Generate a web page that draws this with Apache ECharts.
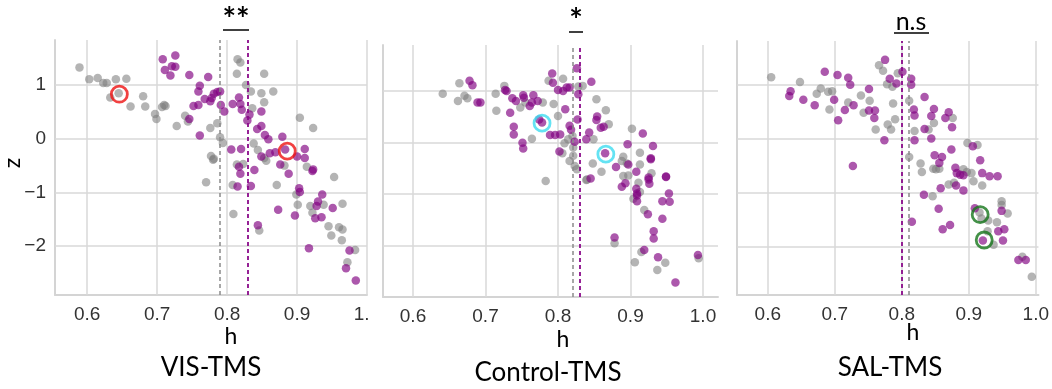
<!DOCTYPE html>
<html>
<head>
<meta charset="utf-8">
<script src="https://cdn.jsdelivr.net/npm/echarts@6.0.0/dist/echarts.min.js"></script>
<style>
  html, body { margin: 0; padding: 0; background: #fff; }
  #chart { width: 1052px; height: 389px; }
</style>
</head>
<body>
<div id="chart"></div>
<script>
// tick values
const xTicks = [0.6, 0.7, 0.8, 0.9, 1.0];
const yTicks = [-2, -1, 0, 1];

// VIS-TMS  [h, z]
const visGray = [[0.589,1.33],[0.603,1.11],[0.615,1.13],[0.623,1.04],[0.628,1.04],[0.641,1.11],[0.656,1.12],[0.633,0.77],[0.645,0.85],[0.662,0.60],[0.680,0.79],[0.683,0.60],[0.707,0.59],[0.712,0.61],[0.697,0.46],[0.699,0.37],[0.728,0.24],[0.740,0.43],[0.744,0.32],[0.776,0.20],[0.786,0.29],[0.790,0.03],[0.794,-0.08],[0.777,-0.32],[0.781,-0.37],[0.770,-0.81],[0.815,1.48],[0.819,1.42],[0.814,1.21],[0.853,1.21],[0.827,1.00],[0.834,0.88],[0.849,0.85],[0.866,0.88],[0.853,0.68],[0.836,0.57],[0.904,0.39],[0.923,0.20],[0.838,-0.09],[0.844,-0.21],[0.853,-0.36],[0.914,-0.52],[0.953,-0.71],[0.871,-0.86],[0.808,-0.86],[0.814,-0.48],[0.823,-0.47],[0.856,-0.41],[0.882,-0.50],[0.809,-1.40],[0.846,-1.71],[0.899,-1.04],[0.901,-1.23],[0.919,-1.25],[0.922,-1.38],[0.938,-1.23],[0.965,-1.21],[0.945,-1.63],[0.949,-1.80],[0.960,-1.65],[0.965,-1.69],[0.964,-1.89],[0.983,-2.07],[0.972,-2.30],[0.710,0.63],[0.780,-0.39]];
const visPurple = [[0.708,1.48],[0.726,1.55],[0.711,1.28],[0.721,1.35],[0.726,1.34],[0.719,1.18],[0.746,1.19],[0.773,1.15],[0.761,0.99],[0.759,0.88],[0.781,0.84],[0.786,0.87],[0.790,0.88],[0.776,0.70],[0.778,0.76],[0.768,0.74],[0.752,0.61],[0.759,0.63],[0.746,0.37],[0.761,0.06],[0.791,0.63],[0.796,0.51],[0.808,0.65],[0.819,0.65],[0.821,0.54],[0.817,0.77],[0.832,0.45],[0.829,0.34],[0.849,0.51],[0.849,0.24],[0.843,0.18],[0.854,0.07],[0.859,-0.01],[0.879,0.04],[0.806,-0.20],[0.820,-0.19],[0.849,-0.33],[0.861,-0.27],[0.869,-0.25],[0.883,-0.20],[0.900,-0.33],[0.911,-0.19],[0.911,-0.36],[0.876,-0.48],[0.817,-0.52],[0.923,-0.57],[0.819,-0.65],[0.815,-0.89],[0.834,-0.88],[0.839,-0.58],[0.888,-0.65],[0.922,-0.60],[0.903,-0.92],[0.904,-0.99],[0.936,-1.04],[0.930,-1.17],[0.928,-1.25],[0.951,-1.29],[0.873,-1.32],[0.897,-1.43],[0.926,-1.48],[0.935,-1.46],[0.844,-1.61],[0.917,-2.04],[0.975,-2.08],[0.970,-2.41],[0.984,-2.64]];
const visMeans = [0.794, 0.831];          // gray, purple
const visRings = [[0.646,0.83],[0.886,-0.23]];

// Control-TMS
const ctlGray = [[0.641,0.94],[0.664,1.14],[0.662,0.80],[0.671,0.90],[0.675,0.85],[0.714,0.94],[0.715,0.61],[0.726,1.09],[0.748,0.67],[0.755,0.77],[0.779,0.77],[0.794,0.74],[0.787,1.19],[0.807,1.23],[0.800,0.51],[0.764,0.07],[0.809,-0.02],[0.814,0.06],[0.820,0.12],[0.821,-0.10],[0.821,-0.26],[0.816,-0.36],[0.823,-0.46],[0.826,-0.52],[0.806,-0.21],[0.828,1.08],[0.834,1.09],[0.853,0.83],[0.866,0.62],[0.870,0.35],[0.849,0.06],[0.848,-0.41],[0.860,-0.57],[0.840,-0.72],[0.783,-0.75],[0.902,0.26],[0.890,-0.28],[0.888,-0.36],[0.895,-0.41],[0.913,-0.20],[0.913,-0.43],[0.929,-0.60],[0.890,-0.65],[0.897,-0.64],[0.911,-0.78],[0.913,-0.96],[0.904,-1.09],[0.919,-1.31],[0.878,-1.95],[0.915,-2.12],[0.906,-2.32],[0.948,-2.33],[0.937,-2.47],[0.994,-2.24],[0.839,-0.73]];
const ctlPurple = [[0.678,1.19],[0.682,1.10],[0.689,0.77],[0.693,0.77],[0.727,1.01],[0.729,0.99],[0.737,0.85],[0.742,0.80],[0.752,0.91],[0.753,0.86],[0.766,0.91],[0.761,0.70],[0.764,0.77],[0.772,0.80],[0.734,0.57],[0.739,0.30],[0.739,0.15],[0.751,-0.01],[0.752,-0.12],[0.774,0.44],[0.778,0.38],[0.789,0.14],[0.796,0.14],[0.803,0.15],[0.802,-0.18],[0.792,1.33],[0.793,1.15],[0.800,1.01],[0.807,0.99],[0.812,1.06],[0.816,1.06],[0.810,0.64],[0.816,0.32],[0.818,0.24],[0.826,1.43],[0.828,0.93],[0.827,0.44],[0.823,0.01],[0.839,0.06],[0.843,0.19],[0.846,1.17],[0.854,0.50],[0.853,0.43],[0.859,0.28],[0.863,0.30],[0.865,-0.21],[0.880,-0.48],[0.896,-0.04],[0.917,0.17],[0.931,-0.07],[0.928,-0.31],[0.897,-0.43],[0.908,-0.57],[0.949,-0.67],[0.845,-0.70],[0.888,-0.86],[0.893,-0.79],[0.908,-0.90],[0.909,-0.99],[0.925,-0.72],[0.926,-0.80],[0.953,-0.99],[0.909,-1.03],[0.909,-1.14],[0.944,-1.14],[0.954,-1.15],[0.924,-1.39],[0.944,-1.48],[0.932,-1.72],[0.932,-1.86],[0.878,-1.84],[0.919,-2.08],[0.938,-2.22],[0.993,-2.18],[0.962,-2.71],[0.928,-0.33],[0.949,-0.66],[0.925,-0.68]];
const ctlMeans = [0.817, 0.828];
const ctlRings = [[0.778,0.37],[0.866,-0.23]];

// SAL-TMS
const salGray = [[0.605,1.15],[0.648,1.06],[0.673,0.84],[0.679,0.94],[0.690,0.88],[0.696,0.89],[0.692,0.55],[0.720,0.68],[0.739,0.81],[0.743,0.49],[0.752,0.71],[0.761,0.18],[0.766,1.37],[0.772,1.27],[0.778,1.02],[0.786,0.97],[0.787,0.66],[0.790,0.37],[0.784,0.18],[0.779,0.27],[0.794,1.22],[0.811,0.71],[0.819,0.15],[0.811,-0.33],[0.828,-0.45],[0.830,-0.61],[0.848,0.30],[0.840,0.18],[0.851,-0.56],[0.856,-0.55],[0.870,-0.84],[0.878,-0.81],[0.898,-0.07],[0.913,-0.11],[0.892,-0.56],[0.897,-0.61],[0.904,-0.63],[0.907,-0.78],[0.920,-0.86],[0.876,0.39],[0.846,-1.06],[0.949,-1.15],[0.949,-1.22],[0.958,-1.38],[0.916,-1.36],[0.919,-1.47],[0.929,-1.51],[0.942,-1.54],[0.928,-1.71],[0.937,-1.96],[0.980,-2.18],[0.994,-2.55],[0.847,-0.55]];
const salPurple = [[0.685,1.25],[0.704,1.19],[0.720,1.14],[0.723,1.01],[0.634,0.89],[0.632,0.80],[0.653,0.73],[0.670,0.63],[0.699,0.73],[0.715,0.54],[0.728,0.63],[0.705,0.35],[0.751,0.93],[0.751,0.53],[0.760,0.53],[0.759,0.39],[0.775,1.47],[0.782,1.12],[0.792,1.03],[0.801,1.25],[0.774,-0.02],[0.727,-0.50],[0.814,1.12],[0.814,1.01],[0.818,0.55],[0.819,0.44],[0.819,-0.02],[0.834,0.78],[0.848,0.56],[0.844,0.43],[0.834,0.19],[0.844,0.01],[0.849,-0.30],[0.860,-0.33],[0.856,-0.44],[0.870,0.50],[0.865,0.39],[0.875,0.22],[0.874,-0.19],[0.906,-0.13],[0.917,-0.39],[0.880,-0.53],[0.882,-0.63],[0.887,-0.66],[0.892,-0.67],[0.920,-0.63],[0.931,-0.69],[0.943,-0.69],[0.833,-1.03],[0.858,-0.91],[0.881,-0.86],[0.892,-0.95],[0.855,-1.29],[0.861,-1.67],[0.872,-1.59],[0.815,-1.53],[0.909,-1.28],[0.949,-1.33],[0.944,-1.71],[0.953,-1.67],[0.921,-1.88],[0.951,-1.88],[0.974,-2.24],[0.985,-2.24]];
const salMeans = [0.811, 0.804];
const salRings = [[0.917,-1.40],[0.923,-1.87]];

const GRAY = 'rgba(125,125,125,0.72)';
const PURPLE = 'rgba(128,0,128,0.82)';
const GRID_COLOR = '#d9d9d9';

const panels = [
  { gray: visGray, purple: visPurple, means: visMeans, rings: visRings, ring: '#ee1111',
    grid: { left: 55, top: 40, width: 312, height: 255 }, xr: [0.554, 1.0], yr: [-2.91, 1.84] },
  { gray: ctlGray, purple: ctlPurple, means: ctlMeans, rings: ctlRings, ring: '#3ddcf0',
    grid: { left: 383, top: 45, width: 335, height: 252 }, xr: [0.5586, 1.0207], yr: [-2.99, 1.88] },
  { gray: salGray, purple: salPurple, means: salMeans, rings: salRings, ring: '#15761a',
    grid: { left: 737, top: 41, width: 315, height: 254 }, xr: [0.554, 1.004], yr: [-2.89, 1.82] }
];

const tickFont = { fontSize: 19, color: '#333', fontFamily: '"Liberation Sans", Arial, sans-serif' };
const grids = [], xAxes = [], yAxes = [], series = [];

panels.forEach((p, i) => {
  grids.push(p.grid);
  xAxes.push({
    type: 'value', gridIndex: i, min: p.xr[0], max: p.xr[1],
    axisLine: { show: true, onZero: false, lineStyle: { color: '#d4d4d4', width: 2 } },
    axisTick: { show: false },
    splitLine: { show: false },
    axisLabel: Object.assign({ customValues: xTicks, margin: 10, formatter: v => v.toFixed(1) }, tickFont)
  });
  yAxes.push({
    type: 'value', gridIndex: i, min: p.yr[0], max: p.yr[1],
    axisLine: { show: true, onZero: false, lineStyle: { color: '#d4d4d4', width: 2 } },
    axisTick: { show: false },
    splitLine: { show: false },
    axisLabel: Object.assign({ show: i === 0, customValues: yTicks, margin: 9,
      formatter: v => String(v).replace('-', '\u2212') }, tickFont)
  });

  series.push({
    type: 'scatter', xAxisIndex: i, yAxisIndex: i, data: p.gray,
    symbolSize: 8.5, itemStyle: { color: GRAY }, z: 2, silent: true,
    markLine: {
      silent: true, symbol: ['none', 'none'], z: 1, animation: false,
      label: { show: false },
      lineStyle: { color: GRID_COLOR, width: 1.5, type: 'solid' },
      data: xTicks.map(v => ({ xAxis: v })).concat(yTicks.map(v => ({ yAxis: v })))
    }
  });
  series.push({
    type: 'scatter', xAxisIndex: i, yAxisIndex: i, data: p.purple,
    symbolSize: 8.5, itemStyle: { color: PURPLE }, z: 3, silent: true,
    markLine: {
      silent: true, symbol: ['none', 'none'], z: 6, animation: false,
      label: { show: false },
      data: [
        { xAxis: p.means[0], lineStyle: { color: '#8a8a8a', width: 1.5, type: [4, 3] } },
        { xAxis: p.means[1], lineStyle: { color: '#8b0a8b', width: 1.8, type: [4, 3] } }
      ]
    }
  });
  series.push({
    type: 'scatter', xAxisIndex: i, yAxisIndex: i, data: p.rings,
    symbol: 'circle', symbolSize: 16, z: 10, silent: true,
    itemStyle: { color: 'rgba(0,0,0,0)', borderColor: p.ring, borderWidth: 2.8 }
  });
});

const titleFont = 'Lato';
const txt = (x, y, text, size, weight) => ({
  type: 'text', x: x, y: y, z: 100,
  style: { text: text, fill: '#000', align: 'center', verticalAlign: 'middle',
    font: (weight || 'normal') + ' ' + size + 'px ' + titleFont }
});
const uline = (x1, x2, y) => ({
  type: 'line', z: 100, shape: { x1: x1, y1: y, x2: x2, y2: y },
  style: { stroke: '#000', lineWidth: 1.5 }
});

const chart = echarts.init(document.getElementById('chart'), null, { renderer: 'canvas' });
chart.setOption({
  animation: false,
  backgroundColor: '#fff',
  grid: grids, xAxis: xAxes, yAxis: yAxes, series: series,
  graphic: [
    { type: 'rect', z: 90, shape: { x: 368, y: 300, width: 14, height: 28 }, style: { fill: '#fff' } },
    txt(211, 368, 'VIS-TMS', 26),
    txt(548, 373, 'Control-TMS', 26),
    txt(890, 368, 'SAL-TMS', 26),
    txt(231, 337, 'h', 23),
    txt(563, 340, 'h', 23),
    txt(913, 333, 'h', 23),
    Object.assign(txt(13, 163, 'z', 23), { rotation: Math.PI / 2 }),
    txt(236, 21, '**', 32, 'bold'),
    uline(223, 249, 30),
    txt(576, 22, '*', 32, 'bold'),
    uline(569, 583, 32),
    txt(911, 22, 'n.s', 25),
    uline(894, 929, 33)
  ]
});
</script>
</body>
</html>
